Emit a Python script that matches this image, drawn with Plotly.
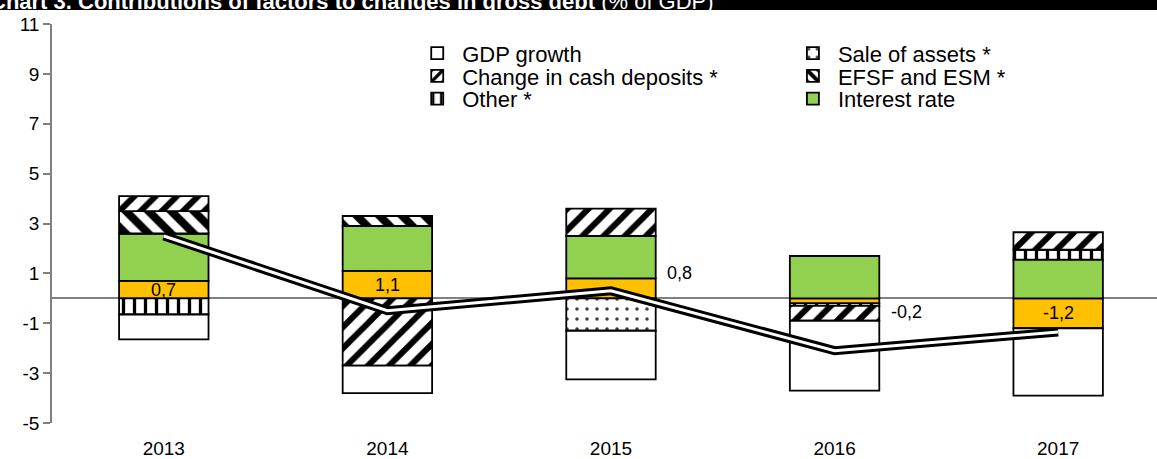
import plotly.graph_objects as go

years = ["2013", "2014", "2015", "2016", "2017"]
gdp_growth = [-1.0, -1.1, -1.95, -2.8, -2.7]
sale_of_assets = [0.0, 0.0, -1.3, 0.0, 0.0]
cash_deposits = [0.6, -2.7, 1.1, -0.6, 0.7]
efsf_esm = [0.9, 0.4, 0.0, 0.0, 0.0]
other = [-0.65, 0.0, 0.0, -0.1, 0.4]
interest_rate = [1.9, 1.8, 1.7, 1.7, 1.55]
primary_balance = [0.7, 1.1, 0.8, -0.2, -1.2]
debt_change = [2.5, -0.5, 0.3, -2.1, -1.35]
y_ticks = [-5, -3, -1, 1, 3, 5, 7, 9, 11]

FONT = "Liberation Sans, Arial, sans-serif"
BW = 0.40
OUTLINE = dict(color="black", width=1.8)

fig = go.Figure()

def add_bar(name, vals, color="white", pattern=None, legend=None):
    marker = dict(color=color, line=OUTLINE)
    if pattern:
        marker["pattern"] = pattern
    fig.add_trace(go.Bar(x=years, y=vals, name=name, width=BW, marker=marker,
                         showlegend=legend is not None, legend=legend or "legend"))

add_bar("Primary balance", primary_balance, color="#FFC000")
add_bar("Interest rate", interest_rate, color="#92D050", legend="legend6")
add_bar("Other *", other, pattern=dict(shape="|", fgcolor="black", bgcolor="white",
                                       fgopacity=1, size=11, solidity=0.3), legend="legend5")
add_bar("Sale of assets *", sale_of_assets, pattern=dict(shape=".", fgcolor="#404040", bgcolor="white",
                                                         fgopacity=1, size=10, solidity=0.1), legend="legend2")
add_bar("EFSF and ESM *", efsf_esm, pattern=dict(shape="\\", fgcolor="black", bgcolor="white",
                                                 fgopacity=1, size=16, solidity=0.5), legend="legend4")
add_bar("Change in cash deposits *", cash_deposits, pattern=dict(shape="/", fgcolor="black", bgcolor="white",
                                                                 fgopacity=1, size=15, solidity=0.4), legend="legend3")
add_bar("GDP growth", gdp_growth, legend="legend")

fig.add_trace(go.Scatter(x=years, y=debt_change, mode="lines", showlegend=False,
                         line=dict(color="black", width=9), hoverinfo="skip"))
fig.add_trace(go.Scatter(x=years, y=debt_change, mode="lines", showlegend=False,
                         name="Change in gross debt", line=dict(color="white", width=3)))

def fmt(v):
    return f"{v:.1f}".replace(".", ",")

# label placement: inside bar, or to the right of the bar
label_outside = [False, False, True, True, False]
label_dy = [0, 0, 0.2, -0.35, 0]
for i, (v, out, dy) in enumerate(zip(primary_balance, label_outside, label_dy)):
    if out:
        fig.add_annotation(x=i, y=v + dy, text=fmt(v), showarrow=False, xanchor="left",
                           xshift=54, font=dict(family=FONT, size=18, color="black"))
    else:
        fig.add_annotation(x=i, y=v / 2, text=fmt(v), showarrow=False,
                           font=dict(family=FONT, size=18, color="black"))

# title band at the top
fig.add_shape(type="rect", xref="paper", yref="paper", x0=-0.2, x1=1.2, y0=1.035, y1=1.2,
              fillcolor="black", line=dict(width=0), layer="above")
fig.add_annotation(xref="paper", yref="paper", x=-0.058, y=1.02, xanchor="left", yanchor="bottom",
                   showarrow=False,
                   text="<b>Chart 3. Contributions of factors to changes in gross debt</b> (% of GDP)",
                   font=dict(family=FONT, size=22, color="white"))

def leg(x, y):
    return dict(x=x, y=y, xanchor="left", yanchor="top", orientation="v",
                font=dict(family=FONT, size=22, color="black"), bgcolor="rgba(0,0,0,0)",
                itemwidth=40)

col1, col2 = 0.326, 0.666
rows = [0.979, 0.922, 0.865]
fig.update_layout(
    width=1157, height=459,
    margin=dict(l=52, r=0, t=24, b=34),
    barmode="relative",
    plot_bgcolor="white", paper_bgcolor="white",
    font=dict(family=FONT, size=19, color="black"),
    showlegend=True,
    legend=leg(col1, rows[0]), legend2=leg(col2, rows[0]),
    legend3=leg(col1, rows[1]), legend4=leg(col2, rows[1]),
    legend5=leg(col1, rows[2]), legend6=leg(col2, rows[2]),
)
fig.update_xaxes(type="category", range=[-0.5, 4.442], showline=False, showgrid=False,
                 ticks="", ticklabelstandoff=12, tickfont=dict(family=FONT, size=19))
fig.update_yaxes(range=[-5, 11], tickvals=y_ticks, ticktext=[str(t) for t in y_ticks],
                 showgrid=False, showline=True,
                 linecolor="#808080", linewidth=1.5, ticks="outside", ticklen=7,
                 tickcolor="#808080", tickwidth=1.5,
                 zeroline=True, zerolinecolor="#808080", zerolinewidth=1.5,
                 tickfont=dict(family=FONT, size=19))

fig.write_html("out.html", config={"displayModeBar": False},
               post_script="document.body.style.margin='0px';")
